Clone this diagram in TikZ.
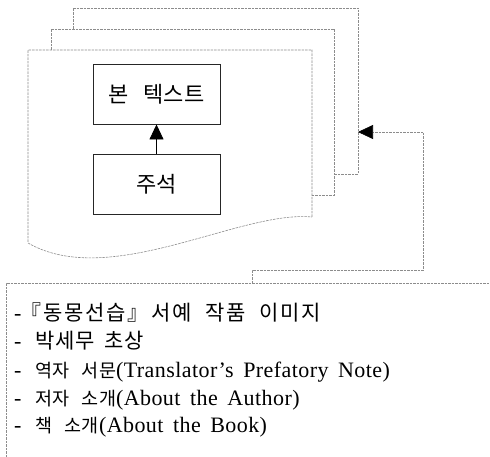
\documentclass[tikz,border=0pt]{standalone}
\usepackage{fontspec}
\setmainfont{Liberation Serif}[LetterSpace=2,WordSpace=1.6]
\newfontfamily\kra{Noto Sans CJK KR}[LetterSpace=8,WordSpace=2.2]
\newfontfamily\krb{Noto Sans CJK KR}[LetterSpace=2,WordSpace=2]
\newfontfamily\krc{Noto Sans CJK KR}[WordSpace=2.1]
\newfontfamily\krbox{Noto Sans CJK KR}[WordSpace=3]
\usetikzlibrary{arrows.meta}
\newcommand{\KA}[1]{{\kra\fontsize{21}{24}\selectfont #1}}
\newcommand{\KB}[1]{{\krb\fontsize{21}{24}\selectfont #1}}
\newcommand{\KC}[1]{{\krc\fontsize{18.5}{24}\selectfont #1}}
\begin{document}
\begin{tikzpicture}[x=1pt,y=-1pt,
  pageline/.style={draw=black!45,line width=0.6pt,dash pattern=on 2.5pt off 1pt},
  boxnode/.style={draw=black!85,line width=0.9pt,minimum width=127pt,minimum height=60pt,inner sep=0pt,font=\krbox\fontsize{22}{24}\selectfont},
  listline/.style={anchor=base west,inner sep=0pt,font=\fontsize{22}{24}\selectfont},
  bigtip/.style={-{Triangle[length=15pt,width=14pt,color=black,fill=black]}}]
\useasboundingbox (0,0) rectangle (490,457);
% pages
\draw[pageline] (73,29) -- (73,8) -- (358,8) -- (358,174) -- (334,174);
\draw[pageline] (51,50) -- (51,29) -- (334,29) -- (334,195) -- (312,195);
\draw[pageline] (312,217) -- (312,50) -- (28,50) -- (28,243)
  .. controls (110,290) and (240,210) .. (312,217);
% boxes
\node[boxnode] (main) at (156.5,94) {본 텍스트};
\node[boxnode] (note) at (156.5,184) {주석};
\draw[line width=0.7pt,bigtip] (note.north) -- (main.south);
% list box
\draw[pageline] (6,457) -- (6,283) -- (490,283);
\coordinate (listtop) at (252,283);
\coordinate (pagetip) at (358,132);
\draw[pageline,bigtip] (listtop) -- (252,270) -- (423,270) -- (423,132) -- (pagetip);
% list text
\node[listline] (l1) at (14,320) {-\kern-1pt\KA{『동몽선습』\kern3pt 서예 작품 이미지}};
\node[listline] (l2) at (14,348) {-\hspace{14pt}\KB{박세무 초상}};
\node[listline] (l3) at (14,377) {-\hspace{14pt}\KC{역자 서문}(Translator’s Prefatory Note)};
\node[listline] (l4) at (14,405) {-\hspace{14pt}\KC{저자 소개}(About the Author)};
\node[listline] (l5) at (14,432) {-\hspace{14pt}\KC{책 소개}(About the Book)};
\end{tikzpicture}
\end{document}
